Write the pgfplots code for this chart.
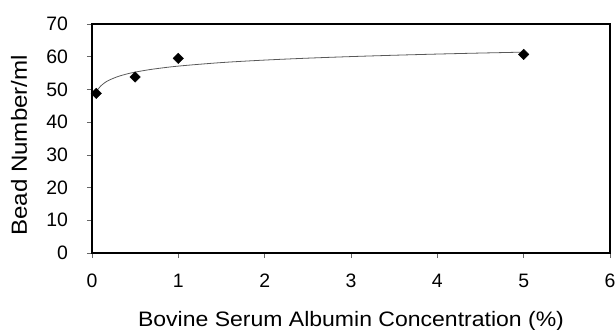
\documentclass[border=0pt]{standalone}
\usepackage{pgfplots}
\pgfplotsset{compat=1.18}
\usepackage{fontspec}
\setmainfont{Liberation Sans}[FakeStretch=1.1]
\newfontfamily\tickfamily{Liberation Sans}
\begin{document}
\begin{tikzpicture}
\useasboundingbox (-92bp,-77bp) rectangle (523bp,253bp);
\begin{axis}[
  scale only axis,
  width=518bp, height=229bp,
  xmin=0, xmax=6, ymin=0, ymax=70,
  xtick={0,1,2,3,4,5,6},
  ytick={0,10,20,30,40,50,60,70},
  /pgf/number format/assume math mode=true,
  every tick label/.style={font=\tickfamily\fontsize{19.5}{22}\selectfont},
  tick align=outside,
  major tick length=5bp,
  tick style={black!60, line width=0.6pt},
  xtick pos=bottom, ytick pos=left,
  axis line style={line width=1.4pt},
  label style={font=\fontsize{21}{24}\selectfont},
  xticklabel style={anchor=center, yshift=-23bp},
  yticklabel style={anchor=east, xshift=-15.5bp},
  xlabel={Bovine Serum Albumin Concentration (\%)},
  ylabel={Bead Number/ml},
  xlabel style={at={(axis description cs:0.5,0)}, anchor=base, yshift=-73bp},
  ylabel style={at={(axis description cs:-0.141,0.47)}, anchor=center, font=\fontsize{22}{24}\selectfont},
  clip=false,
]
\addplot[black!65, line width=0.8pt, no marks, smooth] coordinates {
(0.05,49.19) (0.07,50.08) (0.1,51.02) (0.15,52.10) (0.2,52.86) (0.3,53.94)
(0.4,54.70) (0.5,55.29) (0.7,56.18) (1,57.13) (1.5,58.21) (2,58.97)
(2.5,59.56) (3,60.04) (3.5,60.45) (4,60.81) (4.5,61.12) (5,61.40)
};
\addplot[only marks, mark=square*, mark size=3.7bp, mark options={rotate=45, fill=black, draw=black}] coordinates {
(0.05,48.8) (0.5,53.8) (1,59.5) (5,60.7)
};
\end{axis}
\end{tikzpicture}
\end{document}
